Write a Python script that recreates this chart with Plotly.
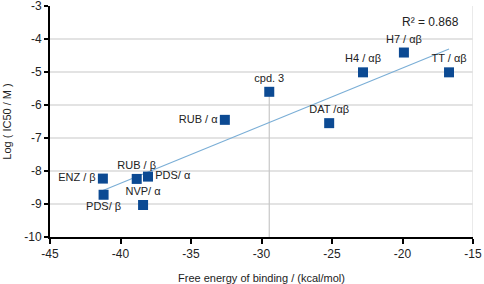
import numpy as np
import plotly.graph_objects as go

labels = ["RUB / α", "cpd. 3", "H4 / αβ", "H7 / αβ", "TT / αβ", "DAT /αβ",
          "ENZ / β", "PDS/ β", "RUB / β", "PDS/ α", "NVP/ α"]
energy = [-32.6, -29.45, -22.8, -19.9, -16.7, -25.2, -41.25, -41.2, -38.85, -38.05, -38.4]
log_ic50 = [-6.45, -5.6, -5.01, -4.41, -5.01, -6.55, -8.23, -8.72, -8.24, -8.17, -9.03]
label_pos = ["middle left", "top center", "top center", "top center", "top center", "top center",
             "middle left", "bottom center", "top center", "middle right", "top center"]
r2_text = "R² = 0.868"

x_ticks = [-45, -40, -35, -30, -25, -20, -15]
x_ticktext = ["-45", "-40", "-35", "-30", "-25", "-20", "-15"]
y_ticks = [-10, -9, -8, -7, -6, -5, -4, -3]
y_ticktext = ["-10", "-9", "-8", "-7", "-6", "-5", "-4", "-3"]

x = np.array(energy)
y = np.array(log_ic50)
slope, intercept = np.polyfit(x, y, 1)
xl = np.array([x.min(), x.max()])
yl = slope * xl + intercept

fig = go.Figure()
ci = labels.index("cpd. 3")
fig.add_trace(go.Scatter(x=[energy[ci], energy[ci]], y=[log_ic50[ci], y_ticks[0]],
                         mode="lines", line=dict(color="#c8c8c8", width=1.2),
                         hoverinfo="skip", showlegend=False))
fig.add_trace(go.Scatter(x=xl, y=yl, mode="lines",
                         line=dict(color="#7aaed6", width=1.1),
                         hoverinfo="skip", showlegend=False))
fig.add_trace(go.Scatter(x=energy, y=log_ic50, mode="markers+text", text=labels,
                         textposition=label_pos,
                         textfont=dict(family="Liberation Sans, Arial", size=11, color="#222222"),
                         marker=dict(symbol="square", size=10, color="#0c4a93"),
                         showlegend=False, cliponaxis=False))

fig.add_shape(type="line", xref="x", yref="y", x0=x_ticks[-1], x1=x_ticks[-1],
              y0=y_ticks[0], y1=y_ticks[-1], line=dict(color="#e3e3e3", width=1.5), layer="below")

fig.add_annotation(x=1, y=0.93, xref="paper", yref="paper", xanchor="right", yanchor="middle",
                   text=r2_text, showarrow=False, xshift=-12,
                   font=dict(family="Liberation Sans, Arial", size=12, color="#222222"))

fig.update_layout(
    width=484, height=284,
    margin=dict(l=50, r=11, t=6, b=47),
    paper_bgcolor="white", plot_bgcolor="white",
    font=dict(family="Liberation Sans, Arial", size=12, color="#222222"),
    xaxis=dict(range=[-45, -15], tickvals=x_ticks, ticktext=x_ticktext, automargin=False,
               ticklabeloverflow="allow",
               showgrid=False, zeroline=False,
               showline=True, linecolor="black", linewidth=2,
               ticks="outside", ticklen=5, tickwidth=2, tickcolor="black",
               title=dict(text="Free energy of binding / (kcal/mol)", font=dict(size=11), standoff=14)),
    yaxis=dict(range=[-10, -3], tickvals=y_ticks, ticktext=y_ticktext, automargin=False,
               ticklabeloverflow="allow",
               showgrid=True, gridcolor="#e3e3e3", gridwidth=1.5, zeroline=False,
               showline=True, linecolor="black", linewidth=2,
               ticks="outside", ticklen=4, tickwidth=2, tickcolor="black",
               title=dict(text="Log ( IC50 / M )", font=dict(size=11), standoff=10)),
)

fig.write_html("out.html", config={"displayModeBar": False},
               post_script="document.body.style.margin='0';document.body.style.overflow='hidden';")
